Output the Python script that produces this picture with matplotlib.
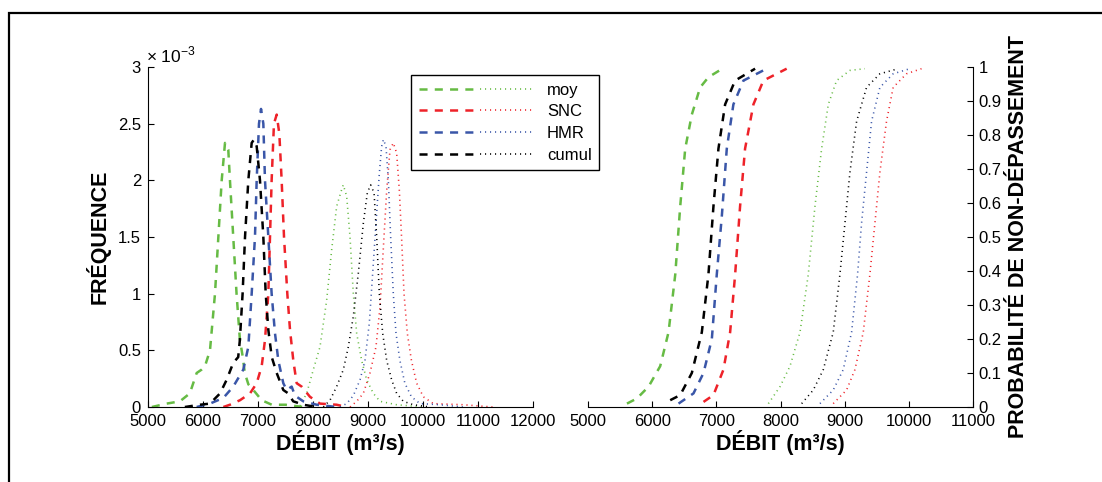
import matplotlib
matplotlib.use("Agg")
import matplotlib.pyplot as plt
from matplotlib.legend_handler import HandlerTuple
from matplotlib.lines import Line2D
from matplotlib.patches import Rectangle

plt.rcParams['font.family'] = ['Liberation Sans', 'DejaVu Sans']
plt.rcParams['mathtext.fontset'] = 'custom'
plt.rcParams['mathtext.rm'] = 'Liberation Sans'
plt.rcParams['lines.scale_dashes'] = False

# ---------------- data: frequency (x 1e-3) ----------------
moy_d_x = [5070, 5340, 5580, 5760, 5885, 5975, 6036, 6127, 6218, 6279, 6340, 6400, 6460, 6490, 6550, 6610, 6670, 6720, 6760, 6825, 6915, 7067, 7250, 7500, 7820]
moy_d_y = [0.0, 0.03, 0.05, 0.12, 0.30, 0.33, 0.36, 0.50, 1.00, 1.50, 2.00, 2.33, 2.27, 2.00, 1.50, 1.00, 0.60, 0.45, 0.30, 0.20, 0.15, 0.06, 0.02, 0.02, 0.0]

snc_d_x = [6370, 6490, 6673, 6855, 6976, 7067, 7127, 7188, 7218, 7248, 7290, 7340, 7388, 7430, 7473, 7533, 7582, 7642, 7703, 7794, 7945, 8127, 8430, 8612]
snc_d_y = [0.0, 0.02, 0.06, 0.12, 0.21, 0.36, 0.59, 1.00, 1.50, 2.00, 2.50, 2.58, 2.41, 2.00, 1.50, 1.00, 0.68, 0.41, 0.21, 0.18, 0.09, 0.03, 0.02, 0.0]

hmr_d_x = [5885, 6127, 6370, 6550, 6733, 6824, 6885, 6945, 6976, 7018, 7055, 7097, 7127, 7188, 7248, 7309, 7370, 7460, 7521, 7612, 7673, 7824, 8066, 8430]
hmr_d_y = [0.0, 0.03, 0.08, 0.18, 0.33, 0.53, 1.00, 1.50, 2.00, 2.50, 2.63, 2.50, 2.00, 1.50, 1.00, 0.65, 0.41, 0.21, 0.15, 0.18, 0.10, 0.05, 0.02, 0.0]

cum_d_x = [5670, 5945, 6127, 6310, 6430, 6550, 6640, 6670, 6720, 6764, 6824, 6885, 6927, 6976, 7036, 7097, 7140, 7188, 7250, 7340, 7460, 7550, 7640, 7825, 8066]
cum_d_y = [0.0, 0.02, 0.03, 0.12, 0.24, 0.39, 0.44, 0.59, 1.00, 1.50, 2.00, 2.33, 2.36, 2.30, 2.00, 1.50, 1.00, 0.68, 0.44, 0.30, 0.15, 0.12, 0.05, 0.02, 0.0]

moy_o_x = [7764, 7885, 8006, 8127, 8248, 8340, 8430, 8503, 8550, 8612, 8673, 8733, 8794, 8885, 8976, 9097, 9218, 9520, 10006]
moy_o_y = [0.01, 0.12, 0.33, 0.53, 0.94, 1.39, 1.77, 1.89, 1.96, 1.86, 1.50, 1.00, 0.65, 0.41, 0.24, 0.12, 0.05, 0.02, 0.0]

snc_o_x = [8673, 8794, 8915, 9036, 9145, 9218, 9280, 9340, 9400, 9460, 9521, 9570, 9610, 9655, 9715, 9790, 9885, 10006, 10188, 10730, 11267]
snc_o_y = [0.0, 0.05, 0.12, 0.30, 0.53, 0.88, 1.41, 1.91, 2.27, 2.33, 2.24, 1.91, 1.50, 1.00, 0.65, 0.41, 0.21, 0.09, 0.03, 0.02, 0.0]

hmr_o_x = [8491, 8612, 8733, 8855, 8945, 9024, 9085, 9145, 9206, 9248, 9280, 9327, 9370, 9412, 9460, 9509, 9580, 9670, 9790, 9945, 10300, 10730]
hmr_o_y = [0.0, 0.03, 0.10, 0.24, 0.41, 0.74, 1.18, 1.62, 2.06, 2.30, 2.36, 2.30, 2.00, 1.50, 1.00, 0.65, 0.41, 0.21, 0.09, 0.03, 0.02, 0.0]

cum_o_x = [8188, 8309, 8430, 8552, 8642, 8733, 8824, 8915, 8988, 9048, 9110, 9158, 9206, 9267, 9340, 9430, 9521, 9642, 9824, 10127]
cum_o_y = [0.0, 0.06, 0.18, 0.33, 0.53, 0.80, 1.18, 1.62, 1.89, 1.96, 1.89, 1.50, 1.00, 0.65, 0.41, 0.24, 0.12, 0.05, 0.02, 0.0]

# ---------------- data: non-exceedance probability ----------------
moy_cd_x = [5607, 5762, 5944, 6125, 6255, 6360, 6437, 6515, 6618, 6748, 6877, 7050]
moy_cd_y = [0.01, 0.025, 0.06, 0.12, 0.22, 0.39, 0.59, 0.76, 0.86, 0.94, 0.97, 0.99]

snc_cd_x = [6800, 6955, 7111, 7215, 7293, 7370, 7448, 7578, 7733, 8096]
snc_cd_y = [0.015, 0.035, 0.11, 0.22, 0.39, 0.59, 0.76, 0.89, 0.96, 0.995]

hmr_cd_x = [6411, 6644, 6800, 6930, 7007, 7085, 7163, 7266, 7422, 7733]
hmr_cd_y = [0.01, 0.04, 0.10, 0.20, 0.39, 0.56, 0.76, 0.89, 0.96, 0.99]

cum_cd_x = [6281, 6437, 6618, 6774, 6877, 6955, 7033, 7137, 7292, 7604]
cum_cd_y = [0.02, 0.035, 0.10, 0.22, 0.39, 0.59, 0.76, 0.89, 0.96, 0.995]

moy_co_x = [7811, 7993, 8148, 8304, 8433, 8537, 8641, 8745, 8874, 9082, 9315]
moy_co_y = [0.01, 0.06, 0.12, 0.22, 0.39, 0.59, 0.76, 0.89, 0.96, 0.99, 0.995]

snc_co_x = [8822, 9030, 9160, 9290, 9393, 9471, 9549, 9652, 9756, 9963, 10197]
snc_co_y = [0.01, 0.05, 0.11, 0.22, 0.39, 0.54, 0.69, 0.84, 0.94, 0.98, 0.995]

hmr_co_x = [8615, 8822, 8978, 9108, 9201, 9263, 9341, 9419, 9549, 9756, 10015]
hmr_co_y = [0.01, 0.05, 0.11, 0.22, 0.39, 0.54, 0.69, 0.84, 0.94, 0.98, 0.995]

cum_co_x = [8330, 8511, 8667, 8822, 8926, 9004, 9082, 9186, 9341, 9549, 9834]
cum_co_y = [0.01, 0.05, 0.11, 0.22, 0.39, 0.54, 0.69, 0.84, 0.94, 0.98, 0.995]

series_names = ['moy', 'SNC', 'HMR', 'cumul']
series_colors = ['#66BB44', '#EE2229', '#3A56A8', '#000000']

freq_dash = [(moy_d_x, moy_d_y), (snc_d_x, snc_d_y), (hmr_d_x, hmr_d_y), (cum_d_x, cum_d_y)]
freq_dot = [(moy_o_x, moy_o_y), (snc_o_x, snc_o_y), (hmr_o_x, hmr_o_y), (cum_o_x, cum_o_y)]
cdf_dash = [(moy_cd_x, moy_cd_y), (snc_cd_x, snc_cd_y), (hmr_cd_x, hmr_cd_y), (cum_cd_x, cum_cd_y)]
cdf_dot = [(moy_co_x, moy_co_y), (snc_co_x, snc_co_y), (hmr_co_x, hmr_co_y), (cum_co_x, cum_co_y)]

left_xticks = [5000, 6000, 7000, 8000, 9000, 10000, 11000, 12000]
left_yticks = [0, 0.5, 1, 1.5, 2, 2.5, 3]
left_ylabels = ['0', '0.5', '1', '1.5', '2', '2.5', '3']
right_xticks = [5000, 6000, 7000, 8000, 9000, 10000, 11000]
right_yticks = [0, 0.1, 0.2, 0.3, 0.4, 0.5, 0.6, 0.7, 0.8, 0.9, 1]
right_ylabels = ['0', '0.1', '0.2', '0.3', '0.4', '0.5', '0.6', '0.7', '0.8', '0.9', '1']

DASH = (5.8, 5.2)
DOT = (0.8, 2.8)
LW_DASH = 1.8
LW_DOT = 1.15
TICK_FS = 12
LABEL_FS = 15.5

fig = plt.figure(figsize=(11.02, 4.82), dpi=100)
fig.patches.append(Rectangle((8.5 / 1102, -0.1), 1.2, 1.1 - 12.5 / 482, transform=fig.transFigure,
                             fill=False, edgecolor='black', linewidth=1.6, zorder=0))

axL = fig.add_axes([148 / 1102, 1 - 407 / 482, 385 / 1102, 340 / 482])
axR = fig.add_axes([588 / 1102, 1 - 407 / 482, 385 / 1102, 340 / 482])

handles = []
for (xd, yd), (xo, yo), c in zip(freq_dash, freq_dot, series_colors):
    axL.plot(xd, yd, color=c, linewidth=LW_DASH, dashes=DASH)
    axL.plot(xo, yo, color=c, linewidth=LW_DOT, dashes=DOT)
    handles.append((Line2D([], [], color=c, linewidth=LW_DASH, dashes=DASH),
                    Line2D([], [], color=c, linewidth=LW_DOT, dashes=DOT)))

for (xd, yd), (xo, yo), c in zip(cdf_dash, cdf_dot, series_colors):
    axR.plot(xd, yd, color=c, linewidth=LW_DASH, dashes=DASH)
    axR.plot(xo, yo, color=c, linewidth=LW_DOT, dashes=DOT)

for ax in (axL, axR):
    ax.set_facecolor('none')
    ax.tick_params(direction='in', length=4, width=0.8, labelsize=TICK_FS, pad=5)
    for s in ax.spines.values():
        s.set_linewidth(0.8)
    ax.spines['top'].set_visible(False)

axL.spines['right'].set_visible(False)
axL.set_xlim(5000, 12000)
axL.set_ylim(0, 3)
axL.set_xticks(left_xticks)
axL.set_xticklabels([str(v) for v in left_xticks])
axL.set_yticks(left_yticks)
axL.set_yticklabels(left_ylabels)
axL.set_xlabel('DÉBIT (m³/s)', fontsize=LABEL_FS, fontweight='bold', labelpad=1)
axL.set_ylabel('FRÉQUENCE', fontsize=LABEL_FS, fontweight='bold', labelpad=5)
axL.text(-0.006, 1.015, r'$\times$ 10$^{-3}$', transform=axL.transAxes, fontsize=12.5,
         ha='left', va='baseline')

axR.spines['left'].set_visible(False)
axR.yaxis.tick_right()
axR.set_xlim(5000, 11000)
axR.set_ylim(0, 1)
axR.set_xticks(right_xticks)
axR.set_xticklabels([str(v) for v in right_xticks])
axR.set_yticks(right_yticks)
axR.set_yticklabels(right_ylabels)
axR.tick_params(axis='y', pad=4)
axR.set_xlabel('DÉBIT (m³/s)', fontsize=LABEL_FS, fontweight='bold', labelpad=1)
fig.text(1018 / 1102, 1 - 237 / 482, 'PROBABILITÉ DE NON-DÉPASSEMENT', rotation=90,
         fontsize=LABEL_FS, fontweight='bold', ha='center', va='center')

leg = fig.legend(handles, series_names, loc='upper left',
                 bbox_to_anchor=(411 / 1102, 1 - 75 / 482),
                 handler_map={tuple: HandlerTuple(ndivide=None, pad=0.4)},
                 fontsize=TICK_FS, handlelength=7.0, handletextpad=0.7,
                 labelspacing=0.4, borderpad=0.45, borderaxespad=0,
                 fancybox=False, framealpha=1, edgecolor='black')
leg.get_frame().set_linewidth(1.0)

fig.savefig('out.png', dpi=100)
